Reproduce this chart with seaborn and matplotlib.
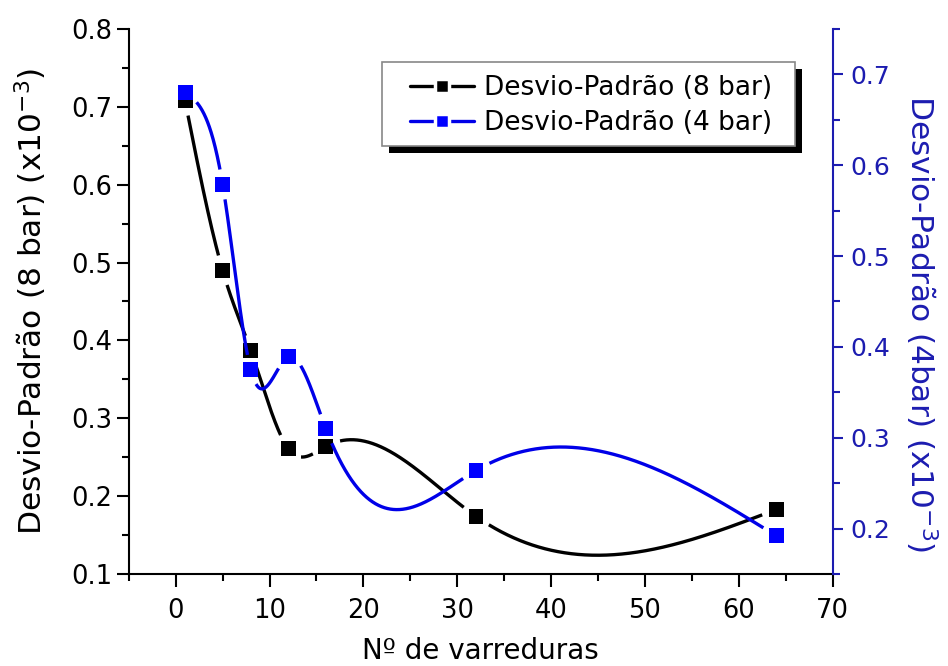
import numpy as np
import pandas as pd
import matplotlib
matplotlib.use("Agg")
import matplotlib.pyplot as plt
from matplotlib.lines import Line2D
from matplotlib.patches import Rectangle
from matplotlib.ticker import MultipleLocator
from matplotlib import patheffects
import seaborn as sns

# Number of sweeps and standard deviation (x10^-3) at each pressure
scans = [1, 5, 8, 12, 16, 32, 64]
std_8bar = [0.708, 0.490, 0.387, 0.261, 0.264, 0.174, 0.183]
std_4bar = [0.680, 0.579, 0.375, 0.389, 0.310, 0.264, 0.192]

x_ticks = [0, 10, 20, 30, 40, 50, 60, 70]
left_ticks = [0.1, 0.2, 0.3, 0.4, 0.5, 0.6, 0.7, 0.8]
right_ticks = [0.2, 0.3, 0.4, 0.5, 0.6, 0.7]

BLACK = "#000000"
BLUE = "#0000e8"
MARK_BLUE = "#0000ff"
AXIS_BLUE = "#1c1cb0"


def natural_spline(x, y, n=2000):
    """Natural cubic spline through (x, y), sampled on n points."""
    x = np.asarray(x, float)
    y = np.asarray(y, float)
    k = len(x)
    h = np.diff(x)
    A = np.zeros((k, k))
    b = np.zeros(k)
    A[0, 0] = A[-1, -1] = 1.0
    for i in range(1, k - 1):
        A[i, i - 1] = h[i - 1]
        A[i, i] = 2 * (h[i - 1] + h[i])
        A[i, i + 1] = h[i]
        b[i] = 3 * ((y[i + 1] - y[i]) / h[i] - (y[i] - y[i - 1]) / h[i - 1])
    c = np.linalg.solve(A, b)
    xs = np.linspace(x[0], x[-1], n)
    idx = np.clip(np.searchsorted(x, xs, side="right") - 1, 0, k - 2)
    dx = xs - x[idx]
    hi = h[idx]
    bi = (y[idx + 1] - y[idx]) / hi - hi * (2 * c[idx] + c[idx + 1]) / 3
    di = (c[idx + 1] - c[idx]) / (3 * hi)
    ys = y[idx] + bi * dx + c[idx] * dx ** 2 + di * dx ** 3
    return xs, ys


def gapped_curve(ax, x, y, gap_px=15):
    """Spline with short breaks around each data marker."""
    xs, ys = natural_spline(x, y)
    pts = ax.transData.transform(np.column_stack([xs, ys]))
    mk = ax.transData.transform(np.column_stack([x, y]))
    d = np.min(np.hypot(pts[:, None, 0] - mk[None, :, 0],
                        pts[:, None, 1] - mk[None, :, 1]), axis=1)
    ys = ys.copy()
    ys[d < gap_px] = np.nan
    return pd.DataFrame({"x": xs, "y": ys})


sns.set_style("ticks")
plt.rcParams["font.family"] = ["DejaVu Sans"]
plt.rcParams["mathtext.fontset"] = "dejavusans"

fig = plt.figure(figsize=(9.48, 6.66), dpi=100)
ax = fig.add_axes([0.1358, 0.1381, 0.7426, 0.8184])
ax2 = ax.twinx()

ax.set_xlim(-5, 70)
ax.set_ylim(0.1, 0.8)
ax2.set_ylim(0.15, 0.75)

# 8 bar series on the left axis
df8 = gapped_curve(ax, scans, std_8bar)
ax.plot(df8["x"], df8["y"], color=BLACK, lw=2.4, solid_capstyle="butt")
sns.scatterplot(x=scans, y=std_8bar, ax=ax, marker="s", s=115, color=BLACK,
                edgecolor="none", zorder=3, legend=False)

# 4 bar series on the right axis
df4 = gapped_curve(ax2, scans, std_4bar)
ax2.plot(df4["x"], df4["y"], color=BLUE, lw=2.4, solid_capstyle="butt")
sns.scatterplot(x=scans, y=std_4bar, ax=ax2, marker="s", s=115,
                color=MARK_BLUE, edgecolor="none", zorder=3, legend=False)

# Axes styling
for a in (ax, ax2):
    a.spines["top"].set_visible(False)
ax.spines["right"].set_visible(False)
ax2.spines["left"].set_visible(False)
ax2.spines["bottom"].set_visible(False)
for s in ("left", "bottom"):
    ax.spines[s].set_linewidth(1.5)
    ax.spines[s].set_color(BLACK)
ax2.spines["right"].set_linewidth(1.5)
ax2.spines["right"].set_color(AXIS_BLUE)

ax.set_xticks(x_ticks)
ax.set_xticklabels([str(v) for v in x_ticks])
ax.xaxis.set_minor_locator(MultipleLocator(5))
ax.set_yticks(left_ticks)
ax.set_yticklabels([f"{v:.1f}" for v in left_ticks])
ax.yaxis.set_minor_locator(MultipleLocator(0.05))
ax2.set_yticks(right_ticks)
ax2.set_yticklabels([f"{v:.1f}" for v in right_ticks])
ax2.yaxis.set_minor_locator(MultipleLocator(0.05))
ax.set_xlim(-5, 70)
ax.set_ylim(0.1, 0.8)
ax2.set_ylim(0.15, 0.75)

ax.tick_params(axis="both", which="major", direction="out", length=9,
               width=1.5, labelsize=18.5, color=BLACK, labelcolor=BLACK)
ax.tick_params(axis="y", which="major", pad=3)
ax.tick_params(axis="x", which="major", pad=8)
ax.tick_params(axis="both", which="minor", direction="out", length=5,
               width=1.5, color=BLACK)
ax2.tick_params(axis="y", which="major", direction="out", length=7,
                width=1.5, labelsize=18, color=AXIS_BLUE,
                labelcolor=AXIS_BLUE, pad=6)
ax2.tick_params(axis="y", which="minor", direction="out", length=5,
                width=1.5, color=AXIS_BLUE)

ax.set_xlabel("Nº de varreduras", fontsize=20, color=BLACK)
ax.xaxis.set_label_coords(0.5, -0.115)
ax.set_ylabel(r"Desvio-Padrão (8 bar) (x10$^{-3}$)", fontsize=22.5,
              color=BLACK)
ax.yaxis.set_label_coords(-0.113, 0.5)
ax2.set_ylabel(r"Desvio-Padrão (4bar) (x10$^{-3}$)", fontsize=22.5,
               color=AXIS_BLUE, rotation=270)
ax2.yaxis.set_label_coords(1.152, 0.46)

# Legend box with a solid drop shadow
box = Rectangle((0.3598, 0.7853), 0.5866, 0.1541, transform=ax2.transAxes,
                facecolor="white", edgecolor="#888888", linewidth=1.2,
                zorder=4)
box.set_path_effects([
    patheffects.SimplePatchShadow(offset=(5, -5), shadow_rgbFace="black",
                                  alpha=1.0),
    patheffects.Normal(),
])
ax2.add_patch(box)

handles = [
    Line2D([], [], color=BLACK, lw=2.4, marker="s", markersize=10,
           markerfacecolor=BLACK, markeredgecolor="white", markeredgewidth=2.5),
    Line2D([], [], color=BLUE, lw=2.4, marker="s", markersize=10,
           markerfacecolor=MARK_BLUE, markeredgecolor="white",
           markeredgewidth=2.5),
]
labels = ["Desvio-Padrão (8 bar)", "Desvio-Padrão (4 bar)"]
leg = ax2.legend(handles, labels, loc="center",
                 bbox_to_anchor=(0.6570, 0.8596), borderaxespad=0,
                 fontsize=19, frameon=False,
                 handlelength=2.4, handletextpad=0.4, labelspacing=0.33,
                 borderpad=0.2)
leg.set_zorder(5)
for t in leg.get_texts():
    t.set_color(BLACK)

fig.savefig("out.png", dpi=100)
